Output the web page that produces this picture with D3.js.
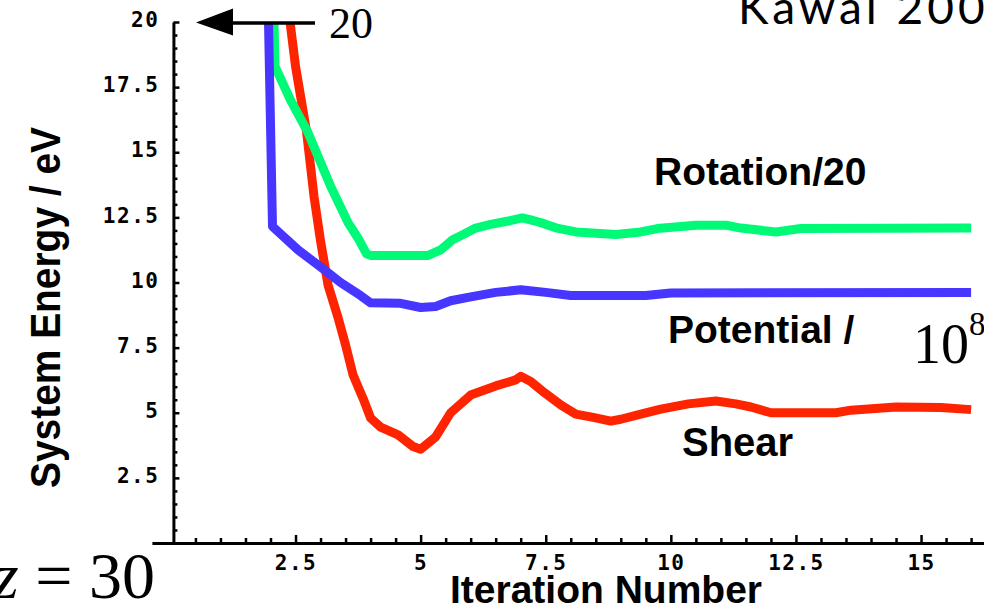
<!DOCTYPE html>
<html>
<head>
<meta charset="utf-8">
<script src="https://cdn.jsdelivr.net/npm/d3@7/dist/d3.min.js"></script>
<style>
  html, body { margin: 0; padding: 0; background: #fff; }
  svg { display: block; }
  .tick text { font-family: "DejaVu Sans Mono", monospace; font-weight: bold; font-size: 21px; letter-spacing: 1.5px; fill: #000; }
  .lbl { font-family: "Liberation Sans", Arial, sans-serif; font-weight: bold; fill: #000; }
  .serif { font-family: "Liberation Serif", "Times New Roman", serif; fill: #000; }
</style>
</head>
<body>
<svg id="chart" width="984" height="615"></svg>
<script>
// Shear energy per iteration
const shearX = [2.39, 2.5, 2.72, 2.87, 3.0, 3.15, 3.35, 3.5, 3.65, 3.85, 4.0, 4.2, 4.55, 4.85, 5.0, 5.3, 5.6, 6.0, 6.5, 6.9, 7.0, 7.2, 7.48, 7.8, 8.1, 8.45, 8.8, 9.0, 9.4, 9.8, 10.35, 10.9, 11.3, 11.6, 12.0, 13.3, 13.6, 14.5, 15.4, 16.0];
const shearY = [20, 18.3, 15.8, 13.3, 11.6, 9.9, 8.65, 7.6, 6.45, 5.55, 4.8, 4.45, 4.15, 3.7, 3.6, 4.07, 5.0, 5.68, 6.03, 6.26, 6.4, 6.2, 5.76, 5.3, 4.95, 4.82, 4.68, 4.75, 4.95, 5.14, 5.34, 5.45, 5.34, 5.22, 5.0, 5.0, 5.1, 5.22, 5.2, 5.12];

// Rotation energy / 20
const rotationX = [2.07, 2.09, 2.4, 2.75, 3.2, 3.55, 3.75, 3.92, 4.0, 5.15, 5.4, 5.63, 5.83, 6.1, 6.4, 6.75, 7.03, 7.25, 7.48, 7.7, 8.1, 8.9, 9.4, 9.73, 10.5, 11.1, 11.4, 12.1, 12.6, 16.0];
const rotationY = [20, 18.3, 17.0, 15.75, 13.7, 12.3, 11.7, 11.1, 11.04, 11.04, 11.25, 11.63, 11.82, 12.09, 12.23, 12.36, 12.48, 12.38, 12.25, 12.1, 11.94, 11.84, 11.94, 12.07, 12.2, 12.2, 12.09, 11.94, 12.07, 12.09];

// Potential energy / 10^8
const potentialX = [1.96, 2.04, 2.55, 3.0, 3.4, 3.8, 4.0, 4.6, 5.0, 5.3, 5.6, 6.0, 6.5, 7.0, 7.5, 8.0, 9.5, 10.0, 16.0];
const potentialY = [20, 12.15, 11.25, 10.6, 10.0, 9.5, 9.22, 9.2, 9.04, 9.08, 9.3, 9.45, 9.62, 9.72, 9.62, 9.5, 9.5, 9.6, 9.62];

const xTickValues = [2.5, 5, 7.5, 10, 12.5, 15];
const xTickLabels = ["2.5", "5", "7.5", "10", "12.5", "15"];
const yTickValues = [2.5, 5, 7.5, 10, 12.5, 15, 17.5, 20];
const yTickLabels = ["2.5", "5", "7.5", "10", "12.5", "15", "17.5", "20"];

const svg = d3.select("#chart");

const x = d3.scaleLinear().domain([-0.37, 16.27]).range([151.9, 984.6]);
const y = d3.scaleLinear().domain([0, 20]).range([543, 22]);
const yAxisAt = 0.06;   // where the vertical axis crosses the horizontal one

svg.append("rect").attr("width", 984).attr("height", 615).attr("fill", "#fff");

// plot region clip (values above 20 run off the top)
svg.append("defs").append("clipPath").attr("id", "plotClip")
  .append("rect")
  .attr("x", x.range()[0]).attr("y", y(20))
  .attr("width", x.range()[1] - x.range()[0]).attr("height", y(0) - y(20));

const line = d3.line().x(d => x(d[0])).y(d => y(d[1]));

const series = [
  { xs: shearX, ys: shearY, color: "#ff2400" },
  { xs: rotationX, ys: rotationY, color: "#00fa78" },
  { xs: potentialX, ys: potentialY, color: "#4636ff" }
];

const plot = svg.append("g").attr("clip-path", "url(#plotClip)");
series.forEach(s => {
  plot.append("path")
    .datum(s.xs.map((v, i) => [v, s.ys[i]]))
    .attr("d", line)
    .attr("fill", "none")
    .attr("stroke", s.color)
    .attr("stroke-width", 9)
    .attr("stroke-linejoin", "round")
    .attr("stroke-linecap", "butt");
});

// minor tick positions every 0.5
const xMinor = d3.range(1, 33).map(k => k * 0.5).filter(v => v % 2.5 !== 0);
const yMinor = d3.range(1, 40).map(k => k * 0.5).filter(v => v % 2.5 !== 0);

// horizontal axis
const gx = svg.append("g").attr("transform", `translate(0,${y(0)})`);
gx.call(d3.axisBottom(x).tickValues(xTickValues)
  .tickFormat((d, i) => xTickLabels[i]).tickSize(-8).tickSizeOuter(0).tickPadding(12));
gx.append("g").call(d3.axisBottom(x).tickValues(xMinor).tickFormat("").tickSize(-5).tickSizeOuter(0))
  .select(".domain").remove();

// vertical axis
const gy = svg.append("g").attr("transform", `translate(${x(yAxisAt)},0)`);
gy.call(d3.axisLeft(y).tickValues(yTickValues)
  .tickFormat((d, i) => yTickLabels[i]).tickSize(-6).tickSizeOuter(0).tickPadding(14));
gy.append("g").call(d3.axisLeft(y).tickValues(yMinor).tickFormat("").tickSize(-4).tickSizeOuter(0))
  .select(".domain").remove();
gy.selectAll(".tick text").attr("dy", "0.22em");

svg.selectAll(".domain").attr("stroke", "#000").attr("stroke-width", 3);
svg.selectAll(".tick line").attr("stroke", "#000").attr("stroke-width", 2.5);

// axis titles
svg.append("text").attr("class", "lbl")
  .attr("x", 606).attr("y", 603).attr("text-anchor", "middle")
  .attr("font-size", 39).text("Iteration Number");

svg.append("text").attr("class", "lbl")
  .attr("transform", "translate(60,307.5) rotate(-90)")
  .attr("text-anchor", "middle").attr("font-size", 42)
  .attr("textLength", 361).attr("lengthAdjust", "spacingAndGlyphs")
  .text("System Energy / eV");

// curve labels
svg.append("text").attr("class", "lbl").attr("x", 654).attr("y", 185).attr("font-size", 39).text("Rotation/20");
svg.append("text").attr("class", "lbl").attr("x", 668).attr("y", 343).attr("font-size", 39).text("Potential /");
svg.append("text").attr("class", "lbl").attr("x", 682).attr("y", 456).attr("font-size", 40).text("Shear");

const pot = svg.append("text").attr("class", "serif").attr("x", 913).attr("y", 363);
pot.append("tspan").attr("font-size", 56).text("10");
pot.append("tspan").attr("font-size", 33).attr("dy", -28).text("8");

// off-scale arrow at 20
svg.append("line").attr("x1", 228).attr("x2", 315).attr("y1", 23).attr("y2", 23)
  .attr("stroke", "#000").attr("stroke-width", 3.5);
svg.append("path").attr("d", "M196,22.5L233,8.5L233,35.5Z").attr("fill", "#000");
svg.append("text").attr("class", "serif").attr("x", 329).attr("y", 38).attr("font-size", 44).text("20");

// annotations
svg.append("text").attr("x", 738).attr("y", 24)
  .attr("font-family", "Lato, 'Open Sans', sans-serif").attr("font-size", 46)
  .attr("letter-spacing", 4).attr("fill", "#000")
  .text("Kawai 2004");

const nz = svg.append("text").attr("class", "serif").attr("x", 155).attr("y", 598)
  .attr("text-anchor", "end").attr("font-size", 66);
nz.append("tspan").attr("font-style", "italic").text("nz");
nz.append("tspan").text(" = 30");
</script>
</body>
</html>
